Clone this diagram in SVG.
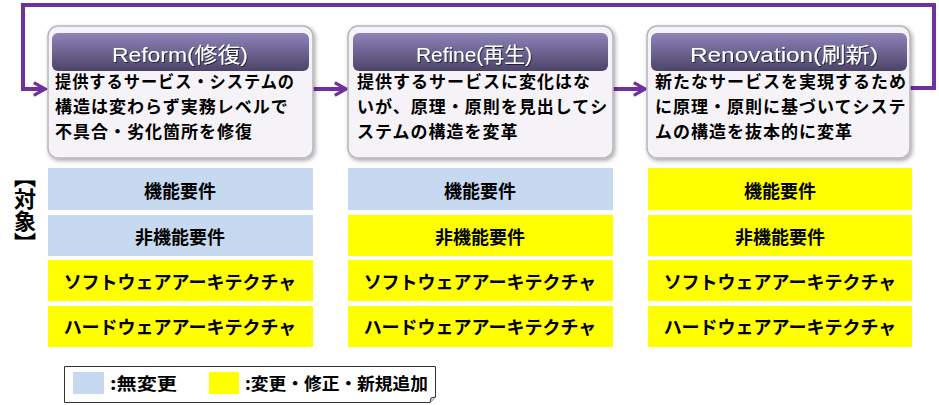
<svg xmlns="http://www.w3.org/2000/svg" width="939" height="405" viewBox="0 0 939 405">
<defs>
<style>
.card{fill:#F6F3F8;stroke:#B8B4BC;stroke-width:1.5}
.hdr{fill:url(#hg)}
.ht{font-family:"Liberation Sans","Noto Sans CJK JP",sans-serif;font-size:21px;fill:#fff}
.bt{font-family:"Noto Sans CJK JP",sans-serif;font-weight:bold;font-size:17px;letter-spacing:1px;fill:#000}
.rt{font-family:"Noto Sans CJK JP",sans-serif;font-weight:bold;font-size:18px;fill:#000;text-anchor:middle}
.blue{fill:#C6D9F1}
.yel{fill:#FFFF00}
.con{fill:none;stroke:#7030A0;stroke-width:4}
.lg{font-family:"Noto Sans CJK JP",sans-serif;font-weight:bold;font-size:17px;fill:#000}
</style>
<linearGradient id="hg" x1="0" y1="0" x2="0" y2="1">
<stop offset="0" stop-color="#8E84BA"/>
<stop offset="1" stop-color="#4C4468"/>
</linearGradient>
<filter id="sh" x="-5%" y="-5%" width="115%" height="120%">
<feDropShadow dx="1.5" dy="2" stdDeviation="2" flood-color="#000" flood-opacity="0.35"/>
</filter>
<filter id="ts" x="-5%" y="-20%" width="110%" height="140%">
<feDropShadow dx="1" dy="1" stdDeviation="0.6" flood-color="#000" flood-opacity="0.6"/>
</filter>
<marker id="ah" viewBox="0 0 10 10" refX="8" refY="5" markerWidth="4" markerHeight="4" orient="auto" markerUnits="strokeWidth">
<path d="M1,1 L8,5 L1,9" fill="none" stroke="#7030A0" stroke-width="2"/>
</marker>
</defs>
<rect width="939" height="405" fill="#fff"/>

<g id="connectors">
<path class="con" d="M310,89 H346" marker-end="url(#ah)"/>
<path class="con" d="M610,89 H645" marker-end="url(#ah)"/>
<path class="con" d="M908,88 H934 V5 H23 V89 H45" marker-end="url(#ah)"/>
</g>

<g id="reform">
<rect class="card" x="48" y="26" width="265" height="132" rx="10" filter="url(#sh)"/>
<rect class="hdr" x="52" y="33" width="257" height="38" rx="6"/>
<text class="ht" x="112" y="62" textLength="136" lengthAdjust="spacingAndGlyphs" filter="url(#ts)">Reform(修復)</text>
<text class="bt"><tspan x="55" y="88" textLength="240" lengthAdjust="spacingAndGlyphs">提供するサービス・システムの</tspan><tspan x="55" y="113">構造は変わらず実務レベルで</tspan><tspan x="55" y="138">不具合・劣化箇所を修復</tspan></text>
</g>

<g id="refine">
<rect class="card" x="348" y="26" width="265" height="132" rx="10" filter="url(#sh)"/>
<rect class="hdr" x="353" y="33" width="255" height="38" rx="6"/>
<text class="ht" x="416" y="62" textLength="116" lengthAdjust="spacingAndGlyphs" filter="url(#ts)">Refine(再生)</text>
<text class="bt"><tspan x="357" y="88">提供するサービスに変化はな</tspan><tspan x="357" y="113">いが、原理・原則を見出してシ</tspan><tspan x="357" y="138">ステムの構造を変革</tspan></text>
</g>

<g id="renovation">
<rect class="card" x="647" y="26" width="263" height="132" rx="10" filter="url(#sh)"/>
<rect class="hdr" x="651" y="33" width="256" height="38" rx="6"/>
<text class="ht" x="690" y="62" textLength="188" lengthAdjust="spacingAndGlyphs" filter="url(#ts)">Renovation(刷新)</text>
<text class="bt"><tspan x="655" y="88">新たなサービスを実現するため</tspan><tspan x="655" y="113">に原理・原則に基づいてシステ</tspan><tspan x="655" y="138">ムの構造を抜本的に変革</tspan></text>
</g>

<g id="target-label">
<text x="25" y="166" style="writing-mode:vertical-rl;font-family:'Noto Sans CJK JP',sans-serif;font-weight:bold;font-size:22px;fill:#000">【対象】</text>
</g>

<g id="col1">
<rect class="blue" x="48" y="168" width="265" height="42"/>
<rect class="blue" x="48" y="215" width="265" height="41"/>
<rect class="yel" x="48" y="260" width="265" height="41"/>
<rect class="yel" x="48" y="306" width="265" height="41"/>
<text class="rt" x="180" y="198">機能要件</text>
<text class="rt" x="180" y="244">非機能要件</text>
<text class="rt" x="180" y="289">ソフトウェアアーキテクチャ</text>
<text class="rt" x="180" y="334">ハードウェアアーキテクチャ</text>
</g>

<g id="col2">
<rect class="blue" x="348" y="168" width="265" height="42"/>
<rect class="yel" x="348" y="215" width="265" height="41"/>
<rect class="yel" x="348" y="260" width="265" height="41"/>
<rect class="yel" x="348" y="306" width="265" height="41"/>
<text class="rt" x="480" y="198">機能要件</text>
<text class="rt" x="480" y="244">非機能要件</text>
<text class="rt" x="480" y="289">ソフトウェアアーキテクチャ</text>
<text class="rt" x="480" y="334">ハードウェアアーキテクチャ</text>
</g>

<g id="col3">
<rect class="yel" x="648" y="168" width="264" height="42"/>
<rect class="yel" x="648" y="215" width="264" height="41"/>
<rect class="yel" x="648" y="260" width="264" height="41"/>
<rect class="yel" x="648" y="306" width="264" height="41"/>
<text class="rt" x="780" y="198">機能要件</text>
<text class="rt" x="780" y="244">非機能要件</text>
<text class="rt" x="780" y="289">ソフトウェアアーキテクチャ</text>
<text class="rt" x="780" y="334">ハードウェアアーキテクチャ</text>
</g>

<g id="legend">
<path d="M64.5,366.5 H435.5 V397 L430,402.5 H64.5 Z" fill="#fff" stroke="#333" stroke-width="1"/>
<path d="M435.5,397 L431,398 L430,402.5" fill="#ddd" stroke="#333" stroke-width="1"/>
<rect class="blue" x="73" y="372" width="31" height="22"/>
<text class="lg" x="110" y="390" textLength="67" lengthAdjust="spacingAndGlyphs">:無変更</text>
<rect class="yel" x="209" y="372" width="30" height="22"/>
<text class="lg" x="245" y="390" textLength="183" lengthAdjust="spacingAndGlyphs">:変更・修正・新規追加</text>
</g>
</svg>
